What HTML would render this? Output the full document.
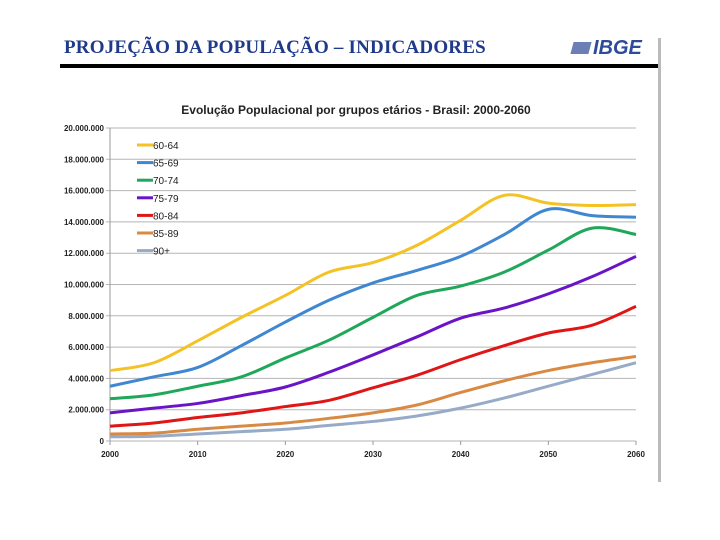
<!DOCTYPE html>
<html><head><meta charset="utf-8"><style>
body{margin:0;width:720px;height:540px;background:#fff;overflow:hidden;position:relative;font-family:"Liberation Sans",sans-serif}
</style></head><body>
<div style="position:absolute;left:64px;top:37px;font-family:'Liberation Serif',serif;font-weight:bold;font-size:19px;color:#1f3a8a;letter-spacing:0.2px">PROJEÇÃO DA POPULAÇÃO – INDICADORES</div>
<div style="position:absolute;left:572px;top:37px;font-weight:bold;font-style:italic;font-size:20px;color:#2d4b9a"><span style="display:inline-block;width:18px;height:12px;background:#6b7fb5;margin-right:3px;transform:skewX(-15deg)"></span>IBGE</div>
<div style="position:absolute;left:60px;top:64px;width:600px;height:4px;background:#000"></div>
<div style="position:absolute;left:658px;top:38px;width:3px;height:444px;background:#bbb"></div>
<svg width="720" height="540" style="position:absolute;left:0;top:0" id="chart">
<text x="356" y="114" text-anchor="middle" font-size="12" font-weight="bold" fill="#222" font-family="Liberation Sans,sans-serif">Evolução Populacional por grupos etários - Brasil: 2000-2060</text>
</svg>
<script>
const years=[2000,2005,2010,2015,2020,2025,2030,2035,2040,2045,2050,2055,2060];
const xTicks=[2000,2010,2020,2030,2040,2050,2060];
const yTicks=[0,2,4,6,8,10,12,14,16,18,20];
const yTickLabels=["0","2.000.000","4.000.000","6.000.000","8.000.000","10.000.000","12.000.000","14.000.000","16.000.000","18.000.000","20.000.000"];
const seriesNames=["60-64","65-69","70-74","75-79","80-84","85-89","90+"];
const seriesColors=["#f5c225","#3f87d0","#1fa85a","#6a14c8","#e01515","#d88a45","#97aac8"];
const s6064=[4.5,5.0,6.4,7.9,9.3,10.8,11.4,12.5,14.1,15.7,15.2,15.05,15.1];
const s6569=[3.5,4.1,4.7,6.1,7.6,9.0,10.1,10.9,11.8,13.2,14.8,14.4,14.3];
const s7074=[2.7,2.95,3.5,4.1,5.3,6.45,7.9,9.3,9.9,10.8,12.2,13.6,13.2];
const s7579=[1.8,2.1,2.4,2.9,3.45,4.4,5.5,6.65,7.85,8.5,9.4,10.5,11.8];
const s8084=[0.95,1.15,1.5,1.8,2.2,2.6,3.4,4.2,5.2,6.1,6.9,7.4,8.6];
const s8589=[0.45,0.5,0.75,0.95,1.15,1.45,1.8,2.3,3.1,3.85,4.5,5.0,5.4];
const s90=[0.27,0.3,0.45,0.6,0.75,1.0,1.25,1.6,2.1,2.75,3.5,4.25,5.0];
const allSeries=[s6064,s6569,s7074,s7579,s8084,s8589,s90];
const X0=110,X1=636,Y0=441,Y1=128;
const xs=v=>X0+(v-2000)/60*(X1-X0);
const ys=v=>Y0-v/20*(Y0-Y1);
const svg=document.getElementById('chart');
const NS='http://www.w3.org/2000/svg';
function mk(t,a){const e=document.createElementNS(NS,t);for(const k in a)e.setAttribute(k,a[k]);svg.appendChild(e);return e;}
yTicks.forEach((v,i)=>{
 const g=mk('line',{x1:X0-4,x2:X1,y1:ys(v),y2:ys(v),stroke:'#b5b5b5','stroke-width':1});
 
 
 const t=mk('text',{x:X0-6,y:ys(v)+3,'text-anchor':'end','font-size':8,'font-weight':'bold',fill:'#222'});
 t.textContent=yTickLabels[i];
 
 
});
const ya=mk('line',{x1:X0,x2:X0,y1:Y1,y2:Y0,stroke:'#999'});


xTicks.forEach(v=>{
 const l=mk('line',{x1:xs(v),x2:xs(v),y1:Y0,y2:Y0+4,stroke:'#999'});
 
 
 const t=mk('text',{x:xs(v),y:Y0+16,'text-anchor':'middle','font-size':8,'font-weight':'bold',fill:'#222'});
 t.textContent=v;
 
 
});
function path(pts){let d='M'+pts[0][0]+','+pts[0][1];for(let i=0;i<pts.length-1;i++){const p0=pts[Math.max(0,i-1)],p1=pts[i],p2=pts[i+1],p3=pts[Math.min(pts.length-1,i+2)];
 d+=' C'+(p1[0]+(p2[0]-p0[0])/6)+','+(p1[1]+(p2[1]-p0[1])/6)+' '+(p2[0]-(p3[0]-p1[0])/6)+','+(p2[1]-(p3[1]-p1[1])/6)+' '+p2[0]+','+p2[1];}return d;}
allSeries.slice().reverse().forEach((s,ri)=>{
 const i=allSeries.length-1-ri;
 const p=mk('path',{d:path(s.map((v,j)=>[xs(years[j]),ys(v)])),fill:'none',stroke:seriesColors[i],'stroke-width':3});
 
 
});
seriesNames.forEach((n,i)=>{
 const y=145+i*17.6;
 const l=mk('line',{x1:137,x2:153,y1:y,y2:y,stroke:seriesColors[i],'stroke-width':3});
 
 
 const t=mk('text',{x:153,y:y+4,'font-size':10,fill:'#222'});
 t.textContent=n;
 
 
});
</script>
</body></html>
